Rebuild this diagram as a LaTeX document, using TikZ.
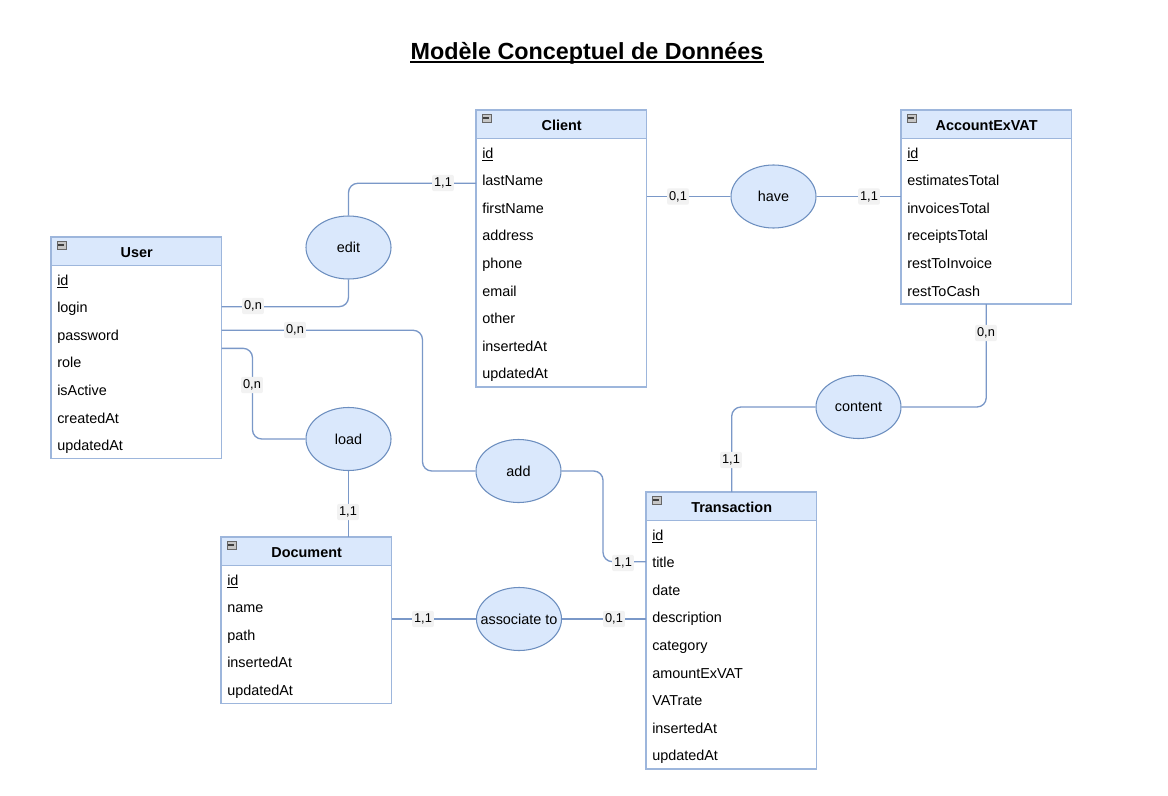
\documentclass[tikz,border=0pt]{standalone}
\usepackage{fontspec}
\setmainfont{Liberation Sans}
\usetikzlibrary{shapes.geometric}
\definecolor{hdrfill}{HTML}{DAE8FC}
\definecolor{tborder}{HTML}{9DB6DC}
\definecolor{relborder}{HTML}{6C8EBF}
\definecolor{conncol}{HTML}{7A98C8}
\definecolor{cardbg}{HTML}{F2F2F2}
\tikzset{
  hdr/.style={rectangle, draw=tborder, line width=1pt, fill=hdrfill, minimum width=127.5pt, minimum height=21pt, inner sep=0pt, text height=9.4pt, text depth=0pt, font=\bfseries\fontsize{10.8}{13}\selectfont},
  rowbox/.style={rectangle, minimum height=20.7pt, text width=118.5pt, inner xsep=4.5pt, inner ysep=0pt, text height=9pt, text depth=0pt, align=left, font=\fontsize{10.8}{13}\selectfont},
  tbody/.style={draw=tborder, line width=1pt},
  rel/.style={ellipse, draw=relborder, fill=hdrfill, line width=0.8pt, minimum width=63.75pt, minimum height=47.25pt, inner sep=0pt, label={[font=\fontsize{10.8}{13}\selectfont]center:#1}},
  conn/.style={draw=conncol, line width=1pt, rounded corners=7pt},
  card/.style={fill=cardbg, rounded corners=1.5pt, inner xsep=1.5pt, inner ysep=2.2pt, font=\fontsize{9.6}{11}\selectfont},
  minusbox/.style={fill=gray!45, draw=gray!80!black, line width=0.4pt},
  minusbar/.style={draw=black!75, line width=0.8pt}
}
\newcommand{\ertable}[6]{%
  \node[hdr, anchor=north west] (#1) at (#2,#3) {#4};
  \draw[minusbox] ([xshift=4.5pt,yshift=-3pt]#1.north west) rectangle ++(6.75pt,-6pt);
  \draw[minusbar] ([xshift=5.6pt,yshift=-6pt]#1.north west) -- ++(4.5pt,0pt);
  \foreach [count=\i] \r in {#5} {
    \node[rowbox, anchor=north west] (#1-\i) at ({#2},{#3+28+27.6*(\i-1)}) {\r};
  }
  \draw[tbody] (#1.north west) rectangle (#1-#6.south east);
}
\begin{document}
\begin{tikzpicture}[x=0.75pt,y=-0.75pt]
\fill[white] (0,0) rectangle (1168,796);
\useasboundingbox (0,0) rectangle (1168,796);

% title
\node[font=\bfseries\fontsize{17.5}{20}\selectfont, inner sep=0pt, anchor=base] (title) at (587,59) {Modèle Conceptuel de Données};
\draw[line width=1.5pt] ([yshift=-2.6pt]title.base west) -- ([yshift=-2.6pt]title.base east);

% tables
\ertable{user}{51}{237}{User}{\underline{id},login,password,role,isActive,createdAt,updatedAt}{7}
\ertable{client}{476}{110}{Client}{\underline{id},lastName,firstName,address,phone,email,other,insertedAt,updatedAt}{9}
\ertable{account}{901}{110}{AccountExVAT}{\underline{id},estimatesTotal,invoicesTotal,receiptsTotal,restToInvoice,restToCash}{6}
\ertable{trans}{646}{492}{Transaction}{\underline{id},title,date,description,category,amountExVAT,VATrate,insertedAt,updatedAt}{9}
\ertable{doc}{221}{537}{Document}{\underline{id},name,path,insertedAt,updatedAt}{5}

% relations
\node[rel=edit] (edit) at (348.5,247.5) {};
\node[rel=have] (have) at (773.5,196.5) {};
\node[rel=load] (load) at (348.5,439) {};
\node[rel=add] (add) at (518.5,471) {};
\node[rel=content] (content) at (858.5,407) {};
\node[rel={associate to}] (assoc) at (519,619) {};

% connectors
\draw[conn] (edit.north) |- ([yshift=-2.7pt]client-2.west);
\draw[conn] (edit.south) |- (user-2.east);
\draw[conn] ([yshift=3pt]user-3.east) -| ([xshift=-39.75pt]add.west) -- (add.west);
\draw[conn] (add.east) -| ([xshift=-32.25pt]trans-2.west) -- (trans-2.west);
\draw[conn] (user-3.south east) -| ([xshift=-39.75pt]load.west) -- (load.west);
\draw[conn] (load.south) -- (load.south |- doc.north);
\draw[conn] (doc.east |- assoc.west) -- (assoc.west);
\draw[conn] (assoc.east) -- (assoc.east -| trans.west);
\draw[conn] (client.east |- have.west) -- (have.west);
\draw[conn] (have.east) -- (have.east -| account.west);
\draw[conn] (account-6.south) |- (content.east);
\draw[conn] (content.west) -| (trans.north);

% cardinalities
\node[card] (l1) at (443,183) {1,1};
\node[card] (l2) at (253,306) {0,n};
\node[card] (l3) at (295,330) {0,n};
\node[card] (l4) at (623,563) {1,1};
\node[card] (l5) at (252,385) {0,n};
\node[card] (l6) at (348,512) {1,1};
\node[card] (l7) at (423,619) {1,1};
\node[card] (l8) at (614,619) {0,1};
\node[card] (l9) at (678,196.5) {0,1};
\node[card] (l10) at (869,196.5) {1,1};
\node[card] (l11) at (986,333) {0,n};
\node[card] (l12) at (731,460) {1,1};
\end{tikzpicture}
\end{document}
